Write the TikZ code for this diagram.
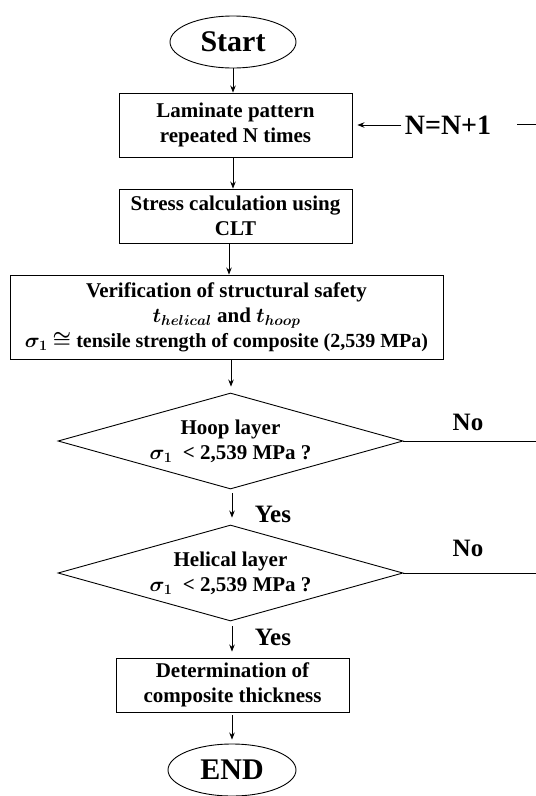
\documentclass[tikz,border=0pt]{standalone}
\usepackage{fontspec}
\setmainfont{Liberation Serif}
\usetikzlibrary{shapes.geometric,arrows.meta}
\begin{document}
\begin{tikzpicture}[x=1pt,y=-1pt,
  every node/.style={font=\fontsize{21}{25}\selectfont\bfseries\boldmath},
  procbox/.style={draw,line width=0.9pt,rectangle,align=center,inner sep=0pt},
  term/.style={draw,line width=0.9pt,ellipse,inner sep=0pt,minimum width=126,minimum height=52,font=\fontsize{30}{34}\selectfont\bfseries},
  decision/.style={draw,line width=0.9pt,diamond,align=center,inner sep=0pt,shape aspect=3.6,minimum width=345,minimum height=96},
  flow/.style={line width=0.9pt,-{Stealth[length=7pt,width=5.5pt]}},
  plain/.style={line width=0.9pt},
  lbl/.style={font=\fontsize{25}{28}\selectfont\bfseries}]
\useasboundingbox (0,0) rectangle (536,796);
\node[term] (start) at (233,42) {Start};
\node[procbox,minimum width=233,minimum height=64] (lam) at (235.5,125) {Laminate pattern\\repeated N times};
\node[procbox,minimum width=233,minimum height=54] (stress) at (235.5,216) {Stress calculation using\\CLT};
\node[procbox,minimum width=433,minimum height=84] (verif) at (226.5,317) {Verification of structural safety\\$t_{helical}$ and $t_{hoop}$\\\fontsize{20}{25}\selectfont$\sigma_1$ $\cong$ tensile strength of composite (2,539 MPa)};
\node[decision] (hoop) at (230.5,441) {Hoop layer\\$\sigma_1$~~< 2,539 MPa ?};
\node[decision] (hel) at (230.5,573) {Helical layer\\$\sigma_1$~~< 2,539 MPa ?};
\node[procbox,minimum width=233,minimum height=54] (det) at (232.5,685) {Determination of\\composite thickness};
\node[term,minimum width=128] (end) at (232,770) {END};
\node[font=\fontsize{28}{30}\selectfont\bfseries] (nn) at (448,125) {N=N+1};
\node[lbl] (no1) at (468,422) {No};
\node[lbl] (no2) at (468,548) {No};
\node[lbl] (yes1) at (273,514) {Yes};
\node[lbl] (yes2) at (273,637) {Yes};
\coordinate (nnr) at (517,124);
\coordinate (e0) at (536,124);
\coordinate (e1) at (536,441);
\coordinate (e2) at (536,573);
\draw[flow] (start.south) -- (start.south |- lam.north);
\draw[flow] (lam.south -| start.south) -- (start.south |- stress.north);
\draw[flow] (stress.south -| 229,0) -- (229,0 |- verif.north);
\draw[flow,shorten >=6pt] (verif.south -| 231,0) -- (231,0 |- hoop.north);
\draw[flow,shorten <=4pt,shorten >=7pt] (hoop.south -| 232,0) -- (232,0 |- hel.north);
\draw[flow,shorten <=5pt,shorten >=6pt] (hel.south -| 232,0) -- (232,0 |- det.north);
\draw[flow,shorten <=3pt,shorten >=4pt] (det.south -| end.north) -- (end.north);
\draw[flow,shorten >=5pt] (nn.west) -- (lam.east);
\draw[plain] (nnr) -- (e0);
\draw[plain] (hoop.east) -- (e1);
\draw[plain] (hel.east) -- (e2);
\end{tikzpicture}
\end{document}
